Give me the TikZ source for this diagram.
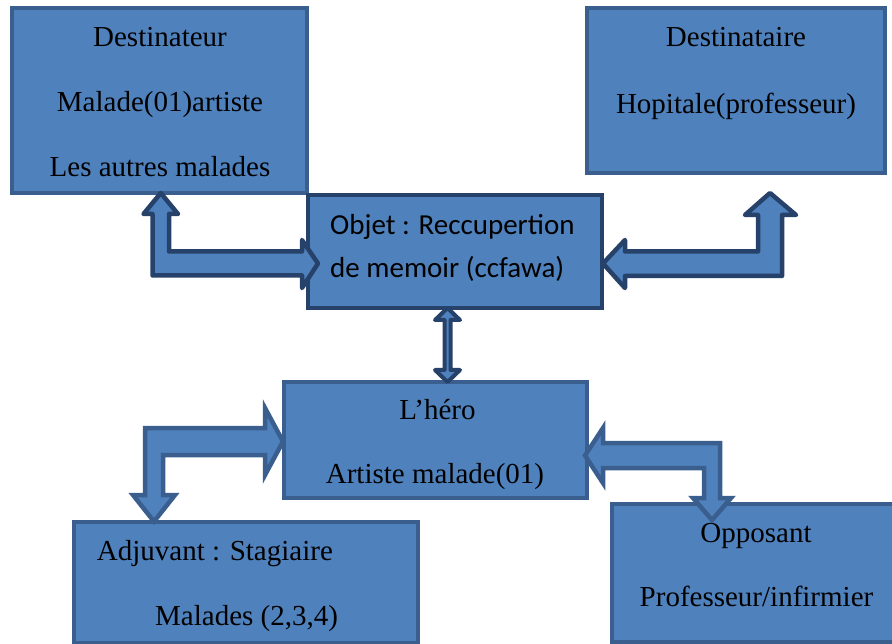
\documentclass[tikz,border=0pt]{standalone}
\usepackage{fontspec}
\setmainfont{Liberation Serif}
\newfontfamily\calib{Carlito}
\definecolor{boxfill}{HTML}{4F81BD}
\definecolor{midline}{HTML}{3A5F8E}
\definecolor{darkline}{HTML}{26426A}
\tikzset{
  actbox/.style={draw=midline, fill=boxfill, line width=4pt, rectangle, inner sep=0pt},
  objbox/.style={draw=darkline, fill=boxfill, line width=4pt, rectangle, inner sep=0pt},
  darkarrow/.style={draw=darkline, fill=boxfill, line width=4.5pt, line join=round},
  midarrow/.style={draw=midline, fill=boxfill, line width=4.5pt, line join=miter},
  txt/.style={anchor=base, inner sep=0pt, font=\fontsize{29}{34}\selectfont},
  ltxt/.style={anchor=base west, inner sep=0pt, font=\fontsize{29}{34}\selectfont},
  ctxt/.style={anchor=base west, inner sep=0pt, font=\calib\fontsize{29}{34}\selectfont}
}
\begin{document}
\begin{tikzpicture}[x=1pt,y=-1pt]
\useasboundingbox (0,0) rectangle (892,644);
\clip (0,0) rectangle (892,644);
% boxes
\node[actbox, minimum width=295pt, minimum height=185pt] (dtr) at (159.5,100.5) {};
\node[actbox, minimum width=298pt, minimum height=165pt] (dta) at (736,90.5) {};
\node[objbox, minimum width=294pt, minimum height=113pt] (obj) at (455,251.5) {};
\node[actbox, minimum width=303.5pt, minimum height=116pt] (hero) at (435.25,440) {};
\node[actbox, minimum width=344.5pt, minimum height=121pt] (adj) at (245.75,582.5) {};
\node[actbox, minimum width=288pt, minimum height=138.5pt] (opp) at (756,572.75) {};
% texts
\node[txt] (t1) at (160,46.7) {Destinateur};
\node[txt] (t2) at (160,111.7) {Malade(01)artiste};
\node[txt] (t3) at (160,176.7) {Les autres malades};
\node[txt] (t4) at (736,46.7) {Destinataire};
\node[txt] (t5) at (736,113.3) {Hopitale(professeur)};
\node[ctxt] (t6) at (330,235) {Objet : Reccupertion};
\node[ctxt] (t7) at (330,278) {de memoir (ccfawa)};
\node[txt] (t8) at (437.5,420) {L’héro};
\node[txt] (t9) at (435,483.3) {Artiste malade(01)};
\node[ltxt] (t10) at (96.7,560) {Adjuvant : Stagiaire};
\node[ltxt] (t11) at (155,625) {Malades (2,3,4)};
\node[txt] (t12) at (756,542.7) {Opposant};
\node[txt] (t13) at (756.5,606.7) {Professeur/infirmier};
% block arrows
\draw[darkarrow] (160.75,193) -- (178,214) -- (169,214) -- (169,251.5) -- (302,251.5) -- (302,240)
  -- (318,263.5) -- (302,288) -- (302,275.5) -- (152.5,275.5) -- (152.5,214) -- (143.5,214) -- cycle;
\draw[darkarrow] (603,263.5) -- (625,240) -- (625,251.5) -- (758,251.5) -- (758,215) -- (745,215)
  -- (770,193) -- (796,215) -- (782,215) -- (782,276) -- (625,276) -- (625,288) -- cycle;
\draw[darkarrow, line width=4pt] (447.5,308) -- (460,320) -- (450.5,320) -- (450.5,370) -- (460,370)
  -- (447.5,382) -- (435,370) -- (444.5,370) -- (444.5,320) -- (435,320) -- cycle;
\draw[midarrow] (283,441.5) -- (265,475) -- (265,455) -- (163,455) -- (163,495) -- (175,495)
  -- (154,521.5) -- (133,495) -- (145,495) -- (145,428) -- (265,428) -- (265,408) -- cycle;
\draw[midarrow] (585,455.5) -- (603,428) -- (603,443) -- (720,443) -- (720,498) -- (731,498)
  -- (712,520) -- (693,498) -- (704,498) -- (704,468) -- (603,468) -- (603,483) -- cycle;
\end{tikzpicture}
\end{document}
